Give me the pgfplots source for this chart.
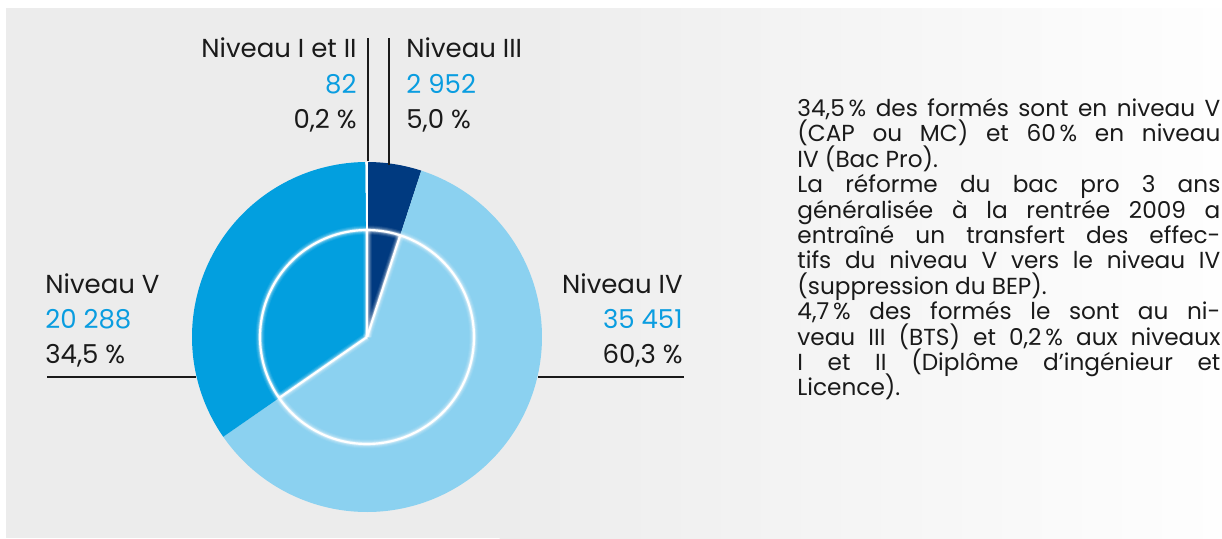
\documentclass[border=0pt]{standalone}
\usepackage{graphicx}
\usepackage{pgfplots}
\usepackage{pgfplotstable}
\pgfplotsset{compat=1.18}
\usepackage{fontspec}
\setmainfont{Poppins}
\definecolor{navyc}{HTML}{003A80}
\definecolor{lightc}{HTML}{8BD1F0}
\definecolor{medc}{HTML}{029FDF}
\definecolor{numc}{HTML}{0A9DE0}
\definecolor{txt}{HTML}{1A1A1A}
\definecolor{bgL}{HTML}{ECECEC}
\definecolor{bgR}{HTML}{FEFEFE}

\pgfplotstableread{
level value
I-II 82
III 2952
IV 35451
V 20288
}\piedata

\newlength\lw
\newlength\W
\setlength\W{211.5pt}
\newcommand\jl[1]{\settowidth\lw{#1}\ifdim\lw>\W\resizebox{\W}{\height}{#1}\else\makebox[\W][s]{#1}\fi\\}

\newcommand\glow[2]{%
  \addplot[white, opacity=#2, line width=#1, domain=0:360, samples=150] ({367+107*cos(x)},{201+107*sin(x)});
  \addplot[white, opacity=#2, line width=#1, domain=0:107, samples=2] ({367+x*cos(\aB)},{201+x*sin(\aB)});
  \addplot[white, opacity=#2, line width=#1, domain=0:107, samples=2] ({367+x*cos(\aC)},{201+x*sin(\aC)});
  \addplot[white, opacity=#2, line width=#1, domain=0:107, samples=2] ({367+x*cos(90)},{201+x*sin(90)});
}

\begin{document}
\begin{tikzpicture}
\pgfplotstablegetelem{0}{value}\of\piedata \edef\vA{\pgfplotsretval}
\pgfplotstablegetelem{1}{value}\of\piedata \edef\vB{\pgfplotsretval}
\pgfplotstablegetelem{2}{value}\of\piedata \edef\vC{\pgfplotsretval}
\pgfplotstablegetelem{3}{value}\of\piedata \edef\vD{\pgfplotsretval}
\pgfkeys{/pgf/fpu=true,/pgf/fpu/output format=fixed}
\pgfmathsetmacro\tot{\vA+\vB+\vC+\vD}
\pgfmathsetmacro\aS{90}
\pgfmathsetmacro\aB{90-360*\vB/\tot}
\pgfmathsetmacro\aC{\aB-360*\vC/\tot}
\pgfmathsetmacro\aD{\aC-360*\vD/\tot}
\pgfmathsetmacro\aE{\aD-360*\vA/\tot}
\pgfkeys{/pgf/fpu=false}
\begin{axis}[
  width=611pt, height=269pt, scale only axis,
  xmin=0, xmax=1222, ymin=0, ymax=538,
  hide axis, clip=false,
]
% background panel
\fill[bgL] (axis cs:6,0) rectangle (axis cs:500,530);
\shade[left color=bgL, right color=bgR, draw=none] (axis cs:499.5,0) rectangle (axis cs:1222,530);

% slices
\addplot[fill=navyc, draw=none, domain=\aB:\aS, samples=40] ({367+175*cos(x)},{201+175*sin(x)}) -- (axis cs:367,201) -- cycle;
\addplot[fill=lightc, draw=none, domain=\aC:\aB, samples=150] ({367+175*cos(x)},{201+175*sin(x)}) -- (axis cs:367,201) -- cycle;
\addplot[fill=medc, draw=none, domain=\aD:\aC, samples=100] ({367+175*cos(x)},{201+175*sin(x)}) -- (axis cs:367,201) -- cycle;
\addplot[fill=white, draw=none, domain=\aE:\aD, samples=5] ({367+175*cos(x)},{201+175*sin(x)}) -- (axis cs:367,201) -- cycle;

% glow around the inner circle and separators
\glow{4.5pt}{0.08}
\glow{3.5pt}{0.12}
\glow{2.5pt}{0.18}
\glow{1.8pt}{0.3}
\addplot[white, line width=1.1pt, domain=0:360, samples=150] ({367+107*cos(x)},{201+107*sin(x)});
\addplot[white, line width=1.1pt, domain=0:107, samples=2] ({367+x*cos(\aB)},{201+x*sin(\aB)});
\addplot[white, line width=1.1pt, domain=0:107, samples=2] ({367+x*cos(\aC)},{201+x*sin(\aC)});
\addplot[white, line width=1.1pt, domain=0:175, samples=2] ({367+x*cos(90)},{201+x*sin(90)});

% leader lines
\draw[txt, line width=0.6pt] (axis cs:368,500) -- (axis cs:368,377);
\draw[txt, line width=0.6pt] (axis cs:389,500) -- (axis cs:389,373);
\draw[txt, line width=0.6pt] (axis cs:47,161) -- (axis cs:196,161);
\draw[txt, line width=0.6pt] (axis cs:538,161) -- (axis cs:684,161);

% labels
\begin{scope}[every node/.style={inner sep=0pt, font=\fontsize{13}{15}\selectfont}]
\node[anchor=base east, txt] at (axis cs:357,480.3) {Niveau I et II};
\node[anchor=base east, numc] at (axis cs:357,445) {82};
\node[anchor=base east, txt] at (axis cs:357,410) {0,2 \%};
\node[anchor=base west, txt] at (axis cs:406,480.3) {Niveau III};
\node[anchor=base west, numc] at (axis cs:406,445) {2 952};
\node[anchor=base west, txt] at (axis cs:406,410) {5,0 \%};
\node[anchor=base west, txt] at (axis cs:45,245) {Niveau V};
\node[anchor=base west, numc] at (axis cs:45,210) {20 288};
\node[anchor=base west, txt] at (axis cs:45,175) {34,5 \%};
\node[anchor=base east, txt] at (axis cs:683,245) {Niveau IV};
\node[anchor=base east, numc] at (axis cs:683,210) {35 451};
\node[anchor=base east, txt] at (axis cs:683,175) {60,3 \%};
\end{scope}

% paragraph
\node[anchor=base west, inner sep=0pt, txt] at (axis cs:797,421.5) {\parbox[t]{\W}{\fontsize{11.6}{12.7}\selectfont\parindent=0pt\lineskiplimit=-20pt\lineskip=0pt
\jl{34,5\,\% des formés sont en niveau V}
\jl{(CAP ou MC) et 60\,\% en niveau}
IV (Bac Pro).\\
\jl{La réforme du bac pro 3 ans}
\jl{généralisée à la rentrée 2009 a}
\jl{entraîné un transfert des effec-}
\jl{tifs du niveau V vers le niveau IV}
(suppression du BEP).\\
\jl{4,7\,\% des formés le sont au ni-}
\jl{veau III (BTS) et 0,2\,\% aux niveaux}
\jl{I et II (Diplôme d’ingénieur et}
Licence).}};
\end{axis}
\pgfresetboundingbox
\path[use as bounding box] (current axis.south west) rectangle (current axis.north east);
\end{tikzpicture}
\end{document}
